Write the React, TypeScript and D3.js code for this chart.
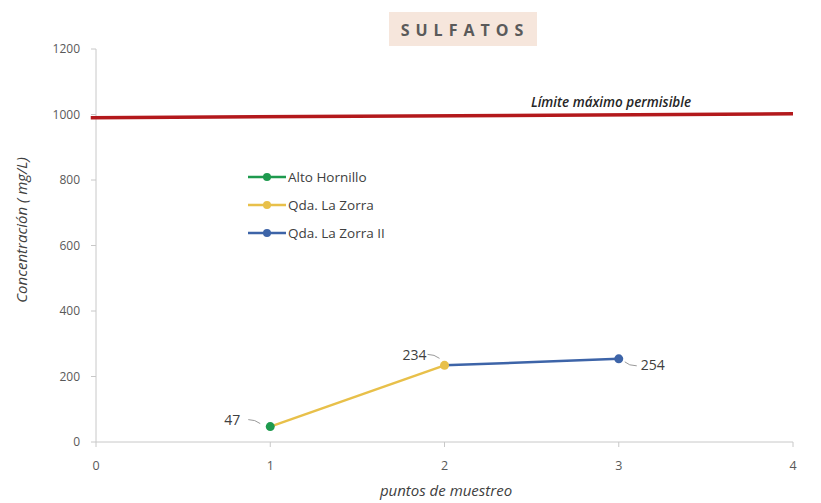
import React from "react";
import * as d3 from "d3";

const seriesNames = ["Alto Hornillo", "Qda. La Zorra", "Qda. La Zorra II"];
const seriesColors = ["#1e9a4e", "#e8c04a", "#3d64a8"];
const pointX = [1, 2, 3];
const pointY = [47, 234, 254];
const yTicks = [0, 200, 400, 600, 800, 1000, 1200];
const xTicks = [0, 1, 2, 3, 4];
const limitX = [-0.03, 4];
const limitY = [990, 1002];

const W = 821, H = 503;
const FONT = "'Open Sans', 'Noto Sans', sans-serif";

export default function App() {
  const x = d3.scaleLinear().domain([0, 4]).range([96, 793]);
  const y = d3.scaleLinear().domain([0, 1200]).range([442, 49]);
  const line = d3.line<[number, number]>().x(d => x(d[0])).y(d => y(d[1]));
  const pts: [number, number][] = pointX.map((v, i) => [v, pointY[i]]);
  const segs = [
    { pts: [pts[0], pts[1]], color: seriesColors[1] },
    { pts: [pts[1], pts[2]], color: seriesColors[2] },
  ];
  const labelOffsets = [
    { dx: -30, dy: -2, lead: "M-10,-3 q -5,-4 -12,-4", anchor: "end" },
    { dx: -18, dy: -5, lead: "M-5,-7 q -5,-4 -12,-4", anchor: "end" },
    { dx: 22, dy: 11, lead: "M6,3 q 4,4 12,4", anchor: "start" },
  ];
  return (
    <svg width={W} height={H} style={{ position: "absolute", left: 0, top: 0, background: "#fff" }}>
      <rect x={389} y={12} width={148} height={34} fill="#f6e6dc" />
      <text x={465} y={36} textAnchor="middle" fontFamily={FONT} fontWeight="bold" fontSize={16} letterSpacing={6} fill="#5a5a5a">SULFATOS</text>

      {/* axes */}
      <line x1={x(0)} x2={x(0)} y1={y(1200)} y2={y(0)} stroke="#c8c8c8" />
      <line x1={x(0)} x2={x(4)} y1={y(0)} y2={y(0)} stroke="#c8c8c8" />
      {yTicks.map(t => (
        <g key={"y" + t}>
          <line x1={x(0) - 5} x2={x(0)} y1={y(t)} y2={y(t)} stroke="#c8c8c8" />
          <text x={80} y={y(t) + 4} textAnchor="end" fontFamily={FONT} fontSize={12} fill="#595959">{t}</text>
        </g>
      ))}
      {xTicks.map(t => (
        <g key={"x" + t}>
          <line x1={x(t)} x2={x(t)} y1={y(0)} y2={y(0) + 5} stroke="#c8c8c8" />
          <text x={x(t)} y={470} textAnchor="middle" fontFamily={FONT} fontSize={12.5} fill="#595959">{t}</text>
        </g>
      ))}
      <text x={446} y={496} textAnchor="middle" fontFamily={FONT} fontStyle="italic" fontSize={15} fill="#404040">puntos de muestreo</text>
      <text transform={`translate(27,230) rotate(-90)`} textAnchor="middle" fontFamily={FONT} fontStyle="italic" fontSize={15} fill="#404040">Concentración ( mg/L)</text>

      {/* limit line */}
      <path d={line(limitX.map((v, i) => [v, limitY[i]] as [number, number])) || ""} stroke="#b3191c" strokeWidth={3.5} fill="none" />
      <text x={611} y={107} textAnchor="middle" fontFamily={FONT} fontStyle="italic" fontWeight={600} fontSize={13.5} fill="#262626">Límite máximo permisible</text>

      {/* series */}
      {segs.map((s, i) => (
        <path key={"s" + i} d={line(s.pts as [number, number][]) || ""} stroke={s.color} strokeWidth={2.5} fill="none" />
      ))}
      {pts.map((p, i) => (
        <circle key={"p" + i} cx={x(p[0])} cy={y(p[1])} r={4.5} fill={seriesColors[i]} />
      ))}
      {pts.map((p, i) => {
        const o = labelOffsets[i];
        const px = x(p[0]), py = y(p[1]);
        return (
          <g key={"l" + i} transform={`translate(${px},${py})`}>
            <path d={o.lead} stroke="#9a9a9a" fill="none" strokeWidth={1} />
            <text x={o.dx} y={o.dy} textAnchor={o.anchor as any} fontFamily={FONT} fontSize={14} fill="#404040">{p[1]}</text>
          </g>
        );
      })}

      {/* legend */}
      {seriesNames.map((n, i) => (
        <g key={"lg" + i} transform={`translate(248,${177 + i * 28})`}>
          <line x1={0} x2={38} y1={0} y2={0} stroke={seriesColors[i]} strokeWidth={2.5} />
          <circle cx={19} cy={0} r={4} fill={seriesColors[i]} />
          <text x={40} y={5} fontFamily={FONT} fontSize={13.5} fill="#404040">{n}</text>
        </g>
      ))}
    </svg>
  );
}
